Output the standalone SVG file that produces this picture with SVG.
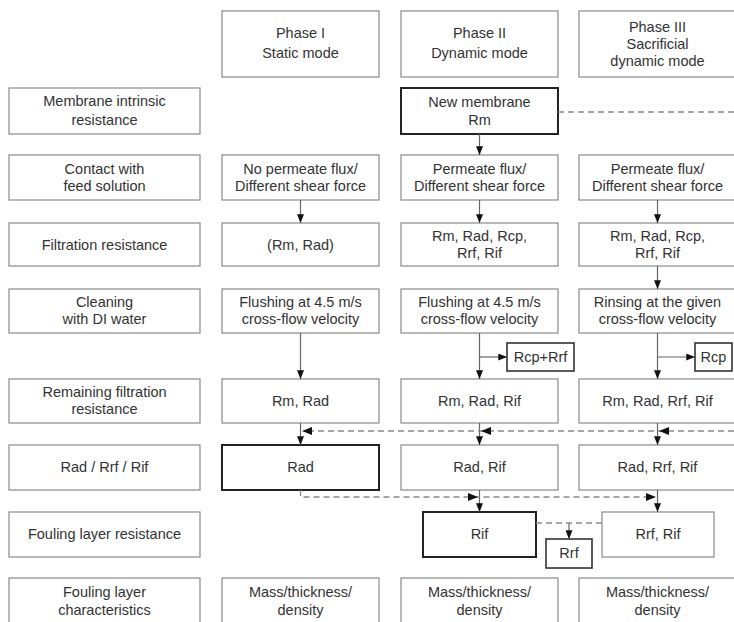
<svg xmlns="http://www.w3.org/2000/svg" width="734" height="622" viewBox="0 0 734 622">
<defs>
<marker id="ah" viewBox="0 0 10 8" refX="10" refY="4" markerWidth="9" markerHeight="7" markerUnits="userSpaceOnUse" orient="auto">
<path d="M0,0 L10,4 L0,8 z" fill="#111"/>
</marker>
<path id="tipL" d="M0,0 L10,-4 L10,4 z" fill="#111"/>
<path id="tipR" d="M0,0 L-10,-4 L-10,4 z" fill="#111"/>
</defs>
<style>
text{font-family:"Liberation Sans",Arial,sans-serif;font-size:14.5px;fill:#333;text-anchor:middle}
.b{fill:#fff;stroke:#8a8a8a;stroke-width:1.2}
.t{fill:#fff;stroke:#222;stroke-width:2}
.s{fill:#fff;stroke:#333;stroke-width:1.6}
.a{fill:none;stroke:#666;stroke-width:1.2;marker-end:url(#ah)}
.d{fill:none;stroke:#8a8a8a;stroke-width:1.3;stroke-dasharray:6 4}
</style>
<rect width="734" height="622" fill="#fff"/>

<g id="rowlabels">
<g id="l1"><rect class="b" x="9" y="88" width="191" height="46"/><text x="104.5" y="106">Membrane intrinsic</text><text x="104.5" y="125">resistance</text></g>
<g id="l2"><rect class="b" x="9" y="155" width="191" height="45"/><text x="104.5" y="174">Contact with</text><text x="104.5" y="191">feed solution</text></g>
<g id="l3"><rect class="b" x="9" y="223" width="191" height="43"/><text x="104.5" y="250">Filtration resistance</text></g>
<g id="l4"><rect class="b" x="9" y="289" width="191" height="44"/><text x="104.5" y="307">Cleaning</text><text x="104.5" y="324">with DI water</text></g>
<g id="l5"><rect class="b" x="9" y="379" width="191" height="44"/><text x="104.5" y="397">Remaining filtration</text><text x="104.5" y="414">resistance</text></g>
<g id="l6"><rect class="b" x="9" y="445" width="191" height="45"/><text x="104.5" y="472">Rad / Rrf / Rif</text></g>
<g id="l7"><rect class="b" x="9" y="512" width="191" height="45"/><text x="104.5" y="539">Fouling layer resistance</text></g>
<g id="l8"><rect class="b" x="9" y="578" width="191" height="52"/><text x="104.5" y="597">Fouling layer</text><text x="104.5" y="615">characteristics</text></g>
</g>

<g id="phase1">
<g id="p1h"><rect class="b" x="222" y="11" width="157" height="66"/><text x="300.5" y="38">Phase I</text><text x="300.5" y="58">Static mode</text></g>
<g id="p1c"><rect class="b" x="222" y="155" width="157" height="45"/><text x="300.5" y="174">No permeate flux/</text><text x="300.5" y="191">Different shear force</text></g>
<g id="p1f"><rect class="b" x="222" y="223" width="157" height="43"/><text x="300.5" y="250">(Rm, Rad)</text></g>
<g id="p1w"><rect class="b" x="222" y="289" width="157" height="44"/><text x="300.5" y="307">Flushing at 4.5 m/s</text><text x="300.5" y="324">cross-flow velocity</text></g>
<g id="p1r"><rect class="b" x="222" y="379" width="157" height="44"/><text x="300.5" y="406">Rm, Rad</text></g>
<g id="p1x"><rect class="t" x="222" y="445" width="157" height="45"/><text x="300.5" y="472">Rad</text></g>
<g id="p1m"><rect class="b" x="222" y="578" width="157" height="52"/><text x="300.5" y="597">Mass/thickness/</text><text x="300.5" y="615">density</text></g>
</g>

<g id="phase2">
<g id="p2h"><rect class="b" x="401" y="11" width="157" height="66"/><text x="479.5" y="38">Phase II</text><text x="479.5" y="58">Dynamic mode</text></g>
<g id="p2n"><rect class="t" x="401" y="88" width="157" height="46"/><text x="479.5" y="107">New membrane</text><text x="479.5" y="125">Rm</text></g>
<g id="p2c"><rect class="b" x="401" y="155" width="157" height="45"/><text x="479.5" y="174">Permeate flux/</text><text x="479.5" y="191">Different shear force</text></g>
<g id="p2f"><rect class="b" x="401" y="223" width="157" height="43"/><text x="479.5" y="241">Rm, Rad, Rcp,</text><text x="479.5" y="258">Rrf, Rif</text></g>
<g id="p2w"><rect class="b" x="401" y="289" width="157" height="44"/><text x="479.5" y="307">Flushing at 4.5 m/s</text><text x="479.5" y="324">cross-flow velocity</text></g>
<g id="p2o"><rect class="s" x="507" y="343" width="67" height="28"/><text x="540.5" y="362">Rcp+Rrf</text></g>
<g id="p2r"><rect class="b" x="401" y="379" width="157" height="44"/><text x="479.5" y="406">Rm, Rad, Rif</text></g>
<g id="p2x"><rect class="b" x="401" y="445" width="157" height="45"/><text x="479.5" y="472">Rad, Rif</text></g>
<g id="p2l"><rect class="t" x="423" y="512" width="113" height="45"/><text x="479.5" y="539">Rif</text></g>
<g id="rrf"><rect class="s" x="546" y="539" width="46" height="29"/><text x="569" y="558">Rrf</text></g>
<g id="p2m"><rect class="b" x="401" y="578" width="157" height="52"/><text x="479.5" y="597">Mass/thickness/</text><text x="479.5" y="615">density</text></g>
</g>

<g id="phase3">
<g id="p3h"><rect class="b" x="579" y="11" width="160" height="66"/><text x="657.5" y="32">Phase III</text><text x="657.5" y="49">Sacrificial</text><text x="657.5" y="66">dynamic mode</text></g>
<g id="p3c"><rect class="b" x="579" y="155" width="160" height="45"/><text x="657.5" y="174">Permeate flux/</text><text x="657.5" y="191">Different shear force</text></g>
<g id="p3f"><rect class="b" x="579" y="223" width="160" height="43"/><text x="657.5" y="241">Rm, Rad, Rcp,</text><text x="657.5" y="258">Rrf, Rif</text></g>
<g id="p3w"><rect class="b" x="579" y="289" width="160" height="44"/><text x="657.5" y="307">Rinsing at the given</text><text x="657.5" y="324">cross-flow velocity</text></g>
<g id="p3o"><rect class="s" x="695" y="343" width="37" height="28"/><text x="713.5" y="362">Rcp</text></g>
<g id="p3r"><rect class="b" x="579" y="379" width="160" height="44"/><text x="657.5" y="406">Rm, Rad, Rrf, Rif</text></g>
<g id="p3x"><rect class="b" x="579" y="445" width="160" height="45"/><text x="657.5" y="472">Rad, Rrf, Rif</text></g>
<g id="p3l"><rect class="b" x="602" y="512" width="112" height="45"/><text x="658" y="539">Rrf, Rif</text></g>
<g id="p3m"><rect class="b" x="579" y="578" width="160" height="52"/><text x="657.5" y="597">Mass/thickness/</text><text x="657.5" y="615">density</text></g>
</g>

<g id="connectors">
<path class="a" d="M479.5,134 V155"/>
<path class="a" d="M300.5,200 V223"/>
<path class="a" d="M479.5,200 V223"/>
<path class="a" d="M657.5,200 V223"/>
<path class="a" d="M657.5,266 V289"/>
<path class="a" d="M300.5,333 V379"/>
<path class="a" d="M479.5,333 V379"/>
<path class="a" d="M657.5,333 V379"/>
<path class="a" d="M479.5,357 H507"/>
<path class="a" d="M657.5,357 H695"/>
<path class="a" d="M300.5,423 V445"/>
<path class="a" d="M479.5,423 V445"/>
<path class="a" d="M657.5,423 V445"/>
<path class="a" d="M479.5,490 V512"/>
<path class="a" d="M657.5,490 V512"/>
<path class="a" d="M569,523 V539"/>
<path class="d" d="M558,112 H734"/>
<path class="d" d="M734,431 H308"/>
<use href="#tipL" x="302" y="431"/>
<use href="#tipL" x="481" y="431"/>
<use href="#tipL" x="659" y="431"/>
<path class="d" d="M300.5,490 V497 H652"/>
<use href="#tipR" x="478" y="497"/>
<use href="#tipR" x="656" y="497"/>
<path class="d" d="M536,523 H602"/>
</g>
</svg>
